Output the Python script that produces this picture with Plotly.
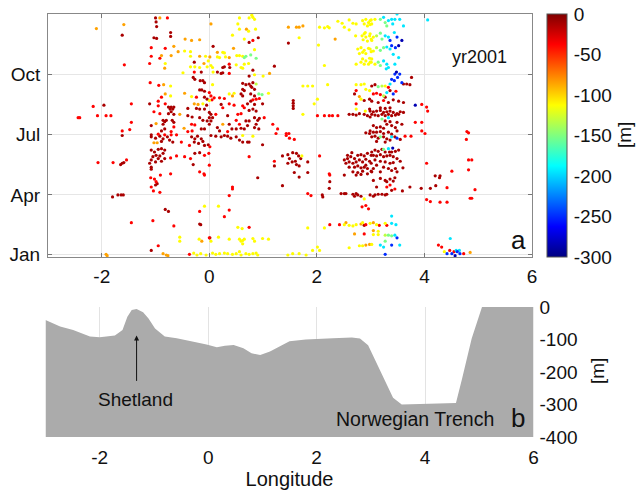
import plotly.graph_objects as go

# ---------------- DATA ----------------
dark_red = [
    (-1.62, 332), (-1.00, 358), (-0.99, 352), (-0.98, 345), (-0.72, 336), (-0.72, 330), (-1.03, 328), (-0.98, 327),
    (-1.96, 226), (-0.15, 276), (-0.30, 268), (-0.27, 265), (-0.17, 263), (-0.12, 263), (-0.09, 260), (-0.18, 249),
    (-0.14, 249), (-0.09, 247), (-0.09, 238), (-0.04, 235), (-0.05, 226), (-1.11, 228), (-0.76, 223), (-0.71, 223),
    (-0.66, 223), (-0.73, 220), (-0.68, 220), (-0.71, 216), (-0.76, 213), (-0.66, 212), (-0.40, 221), (-0.24, 221),
    (-0.18, 220), (-0.09, 220), (-0.86, 203), (-0.83, 201), (-0.86, 197), (-0.80, 203), (-0.69, 203), (-0.66, 200),
    (-1.08, 195), (-0.40, 210), (-0.32, 208), (-0.18, 207), (-0.12, 203), (-0.04, 202), (-0.89, 187), (-0.83, 190),
    (-0.15, 190), (-0.09, 190), (-1.08, 181), (-0.28, 291),
    (-1.62, 180), (-1.08, 178), (-1.00, 176), (-0.92, 179), (-0.86, 175), (-0.78, 178), (-0.74, 173), (-0.68, 170),
    (-0.89, 171), (-0.33, 178), (-0.27, 175), (-0.22, 179), (-0.15, 175), (-0.28, 170), (-0.20, 168), (-0.12, 171),
    (-0.09, 165), (-0.02, 166), (-1.08, 158), (-1.02, 155), (-0.95, 159), (-0.89, 160), (-0.83, 158), (-0.99, 150),
    (-0.92, 149), (-0.86, 153), (-1.05, 148), (-0.95, 145), (-0.83, 145), (-1.08, 143), (-0.89, 141), (-1.00, 140),
    (-0.27, 153), (-0.18, 154), (-1.65, 136), (-1.62, 138), (-1.59, 139), (-1.11, 138), (-1.08, 132), (-1.08, 129),
    (-0.30, 136), (-1.00, 105), (-0.97, 107), (-1.80, 87), (-1.70, 90), (-1.64, 90), (-1.60, 90), (-0.82, 68),
    (-0.76, 65), (-0.18, 46), (-0.16, 45), (0.01, 25), (-1.08, 6),
    (0.74, 321), (0.91, 328), (1.47, 320), (0.07, 315), (0.25, 283), (0.28, 284), (0.38, 283), (0.15, 276),
    (0.22, 274), (0.25, 275), (0.81, 279), (1.21, 285), (0.74, 270), (0.62, 259), (0.68, 257), (0.74, 258),
    (0.77, 255), (0.81, 260), (0.62, 250), (0.65, 248), (0.79, 253), (0.84, 250), (0.77, 243), (0.84, 240),
    (0.59, 243), (0.62, 240), (0.99, 228), (0.71, 228), (0.77, 232), (0.84, 227), (0.22, 227), (0.74, 218),
    (0.81, 220), (0.87, 217), (0.00, 215), (0.03, 212), (0.00, 207), (0.06, 207), (0.03, 202), (0.00, 197),
    (0.34, 210), (0.68, 202), (0.74, 202), (0.84, 207), (0.90, 203), (0.93, 206), (0.71, 195), (0.87, 197),
    (0.65, 190), (0.84, 192), (0.92, 190), (0.50, 190), (0.59, 191), (0.37, 197), (0.42, 190), (0.15, 192),
    (0.19, 187), (1.56, 233), (1.56, 229), (1.56, 225), (1.56, 221), (2.70, 243), (2.88, 233), (2.98, 235),
    (2.98, 220), (2.60, 212), (2.67, 212), (2.73, 211), (2.79, 213), (2.88, 212), (2.94, 210), (2.99, 208),
    (2.91, 184), (2.98, 183),
    (0.03, 180), (0.12, 179), (0.22, 178), (0.28, 180), (0.34, 179), (0.40, 176), (0.50, 178), (0.56, 173),
    (0.62, 170), (0.71, 170), (0.74, 170), (0.99, 166), (0.90, 116), (1.36, 104), (1.21, 134), (1.36, 149),
    (1.46, 151), (1.49, 145), (1.55, 154), (1.62, 153), (1.66, 149), (1.70, 145), (1.54, 140), (1.46, 138),
    (1.62, 136), (1.67, 134), (1.60, 141), (1.83, 140), (1.58, 124), (1.67, 117), (1.83, 124), (2.10, 90),
    (2.11, 87), (2.24, 110), (2.23, 100),
    (2.51, 143), (2.57, 145), (2.63, 148), (2.70, 145), (2.76, 150), (2.82, 151), (2.88, 149), (2.94, 153),
    (3.01, 150), (2.54, 138), (2.60, 140), (2.67, 138), (2.73, 140), (2.79, 143), (2.85, 140), (2.91, 144),
    (2.98, 141), (3.01, 138), (2.60, 132), (2.70, 132), (2.76, 134), (2.82, 131), (2.88, 132), (2.94, 130),
    (2.67, 125), (2.76, 124), (2.85, 126), (2.94, 122), (3.01, 126), (2.51, 120), (2.73, 120), (2.82, 121),
    (2.57, 150), (2.65, 154), (2.91, 135), (2.45, 92), (2.51, 92), (2.54, 92), (2.67, 91), (2.73, 92),
    (2.76, 90), (2.70, 88), (2.82, 88), (2.88, 44),
    (3.61, 258), (3.67, 258), (3.73, 257), (3.76, 268), (3.02, 255), (3.08, 257), (3.27, 238), (3.36, 248),
    (3.02, 232), (3.14, 230), (3.33, 230), (3.42, 234), (3.52, 232), (3.61, 230),
    (2.99, 217), (3.05, 216), (3.11, 217), (3.18, 218), (3.24, 215), (3.30, 216), (3.36, 217), (3.42, 215),
    (3.49, 213), (3.55, 216), (3.61, 215), (3.02, 212), (3.08, 211), (3.14, 210), (3.21, 212), (3.27, 210),
    (3.33, 212), (3.39, 210), (3.46, 211), (3.52, 212), (3.36, 222), (3.27, 221), (3.18, 222), (3.27, 202),
    (3.36, 201), (3.49, 200), (3.58, 197), (3.05, 195), (3.11, 192), (3.18, 193), (3.24, 191), (3.30, 197),
    (3.39, 195), (3.46, 192), (2.99, 187), (3.05, 185), (3.11, 185), (3.18, 186), (3.24, 183), (3.33, 185),
    (3.39, 182), (3.49, 187),
    (3.02, 178), (3.08, 179), (3.14, 176), (3.24, 178), (3.30, 175), (3.36, 173), (3.45, 178), (3.55, 174),
    (3.11, 171), (3.27, 170), (3.02, 155), (3.08, 158), (3.14, 156), (3.21, 159), (3.27, 155), (3.35, 155),
    (3.39, 155), (3.46, 156), (3.52, 158), (3.05, 150), (3.11, 149), (3.18, 151), (3.24, 148), (3.30, 149),
    (3.36, 150), (3.42, 148), (3.49, 145), (3.08, 143), (3.18, 141), (3.27, 140), (3.36, 138), (3.42, 139),
    (3.55, 141), (3.24, 132), (3.33, 130), (3.39, 127), (3.46, 130), (3.11, 135), (3.05, 130), (3.02, 125),
    (3.18, 125), (3.49, 125), (3.60, 131), (3.05, 112), (3.18, 115), (3.27, 112), (3.30, 110), (3.36, 114),
    (3.42, 111), (3.45, 116), (3.11, 102), (3.39, 97), (2.99, 90), (3.05, 88), (3.08, 90), (3.14, 91),
    (3.21, 91), (3.27, 90), (3.30, 91), (3.59, 96), (3.73, 102), (3.94, 100), (4.11, 100), (4.20, 119),
    (4.29, 119), (4.28, 116), (4.21, 104),
]

red = [
    (-1.58, 287), (-2.16, 224), (-1.45, 228), (-2.44, 207), (-2.41, 207), (-2.08, 210), (-1.92, 210), (-1.83, 210),
    (-1.45, 200), (-1.62, 187), (-1.48, 189), (-0.78, 358), (-1.08, 313), (-0.82, 312), (-0.92, 297), (-1.08, 300),
    (-1.11, 289), (-0.28, 276), (-1.10, 260), (-0.94, 256), (-0.24, 238), (-0.89, 238), (-0.82, 228), (-0.95, 232),
    (-0.95, 225), (-1.03, 216), (-0.92, 213), (-0.33, 197), (-0.27, 196), (-0.66, 193), (-0.71, 186), (-0.40, 186),
    (-0.32, 187), (-0.95, 182), (-0.83, 181), (-0.71, 181), (-0.61, 181),
    (-0.52, 170), (-0.37, 165), (-0.72, 146), (-0.61, 149), (-0.46, 148), (-0.35, 145), (-0.09, 150), (-0.01, 153),
    (-2.07, 139), (-1.79, 139), (-1.54, 143), (-0.91, 120), (-0.72, 122), (-0.18, 125), (-0.10, 122), (-0.09, 120),
    (-1.09, 116), (-1.02, 114), (-0.99, 110), (-1.08, 102), (-1.04, 96), (-0.92, 94), (-1.45, 48), (-1.05, 51),
    (-0.66, 43), (-0.18, 65), (-0.95, 13), (-0.37, 0),
    (0.81, 324), (0.37, 288), (0.37, 274), (0.00, 245), (0.03, 240), (0.09, 237), (0.19, 237), (0.28, 236),
    (0.81, 234), (0.87, 235), (0.93, 236), (0.62, 225), (0.65, 222), (0.37, 228), (0.46, 226), (0.05, 234),
    (0.25, 222), (0.53, 212), (0.59, 213), (0.12, 212), (1.02, 207), (1.18, 197), (1.27, 190), (0.50, 203),
    (0.56, 197), (0.34, 186), (2.73, 248), (2.73, 228), (2.01, 210), (2.14, 210), (2.23, 210), (2.29, 210),
    (2.39, 210), (1.43, 183), (1.48, 183), (1.24, 183),
    (1.43, 180), (1.49, 176), (1.58, 174), (0.01, 163), (0.00, 135), (0.74, 148), (0.43, 102), (0.43, 99),
    (0.37, 89), (1.21, 141), (1.83, 92), (1.89, 89), (2.05, 149), (2.23, 122), (2.24, 120), (2.84, 72),
    (2.91, 74), (2.96, 69), (0.37, 67), (0.28, 57), (0.74, 41), (2.24, 45), (2.42, 45), (2.91, 45),
    (2.88, 31), (0.00, 25),
    (3.33, 253), (3.05, 243), (3.11, 244), (3.18, 242), (3.47, 247), (3.24, 233), (3.95, 227), (4.04, 223),
    (4.06, 217), (3.83, 200), (3.95, 200), (3.95, 187), (4.01, 183), (4.79, 186), (4.82, 184),
    (3.64, 179), (3.75, 179), (3.30, 102), (3.36, 105), (3.45, 99), (4.04, 138), (4.51, 126), (4.42, 101),
    (4.78, 174), (4.82, 143), (4.88, 143), (4.82, 128), (4.94, 98), (4.85, 85), (4.88, 85), (4.04, 83),
    (4.11, 80), (4.29, 79), (4.42, 79), (3.16, 44), (3.30, 44), (4.26, 14), (4.32, 11), (4.47, 6),
    (4.55, 4), (4.73, 1),
]

orange = [
    (-2.10, 342), (-1.59, 348), (-0.92, 358), (-0.66, 315), (-0.45, 326), (-0.33, 324), (-0.18, 325), (-0.58, 307),
    (-0.71, 301), (-0.89, 301), (-0.83, 282), (-0.18, 300), (-0.10, 289), (-0.85, 257), (-0.46, 244), (-0.82, 243),
    (-0.28, 228), (-0.21, 227), (-0.55, 212), (-0.99, 198), (-0.47, 191),
    (-1.03, 169), (-0.97, 169), (-0.14, 20), (-1.92, 0), (-1.90, -2), (-0.86, 1), (-0.80, -1), (-0.77, -2),
    (0.03, 349), (0.69, 341), (1.47, 344), (1.62, 344), (1.67, 344), (1.74, 346), (0.45, 312), (0.15, 306),
    (0.01, 299), (0.37, 298), (1.12, 274), (0.43, 240), (0.25, 197), (2.34, 326), (2.79, 239),
    (2.54, 48), (2.70, 31), (2.91, 14), (2.98, 15), (2.82, 46),
    (3.05, 48), (3.05, 36), (4.85, 3),
]

yellow = [
    (-0.46, 308), (-0.35, 307), (-0.82, 289), (-0.35, 300), (-0.07, 300), (-0.02, 293), (-0.35, 284), (-0.27, 284),
    (-0.18, 283), (-0.04, 284), (-0.49, 275), (-0.72, 255), (-0.72, 240), (-0.33, 239), (-0.12, 228),
    (-0.09, 73), (-0.55, 26), (-0.55, 20), (-0.19, 23), (-0.29, 2), (-0.23, -1), (-0.16, 1), (-0.06, -1),
    (0.74, 358), (0.81, 359), (0.84, 356), (0.79, 362), (0.56, 358), (0.53, 349), (0.56, 341), (0.73, 338),
    (0.86, 341), (0.43, 332), (0.65, 326), (1.67, 328), (0.84, 310), (0.25, 306), (0.28, 305), (0.15, 299),
    (0.19, 298), (0.30, 299), (0.51, 301), (0.56, 301), (0.62, 300), (0.73, 289), (0.65, 288), (0.03, 286),
    (0.06, 283), (0.50, 287), (0.59, 283), (0.62, 282), (0.07, 276), (1.00, 270), (0.84, 272), (0.06, 257),
    (0.37, 243), (0.46, 244), (1.10, 244), (0.00, 233), (1.74, 212), (1.74, 255), (1.83, 255), (1.92, 255),
    (1.95, 228), (2.14, 286), (2.20, 257), (2.01, 235), (2.05, 344), (2.14, 343), (2.20, 345), (2.23, 343),
    (2.03, 317), (2.39, 353), (2.47, 350), (2.60, 355), (2.67, 350), (2.73, 349), (2.51, 344), (2.60, 340),
    (2.72, 331), (2.85, 354), (2.91, 356), (2.96, 351), (3.01, 355), (2.88, 349), (2.94, 346), (2.99, 348),
    (2.84, 331), (2.88, 334), (2.91, 329), (2.98, 331), (3.01, 326), (2.86, 325), (2.94, 323), (2.90, 336),
    (2.76, 311), (2.82, 313), (2.88, 309), (2.96, 312), (3.01, 307), (2.85, 306), (2.91, 304), (2.79, 304),
    (2.85, 296), (2.91, 293), (2.98, 297), (2.88, 288), (2.96, 288), (3.01, 291), (2.82, 291), (2.73, 288),
    (2.73, 257), (2.82, 257), (2.88, 258), (2.91, 250), (2.98, 248), (2.82, 235), (2.73, 220), (2.90, 217),
    (0.81, 179), (0.62, 180), (1.72, 149), (2.88, 84), (0.17, 73), (0.53, 41), (0.61, 39), (1.83, 40),
    (2.14, 40), (2.51, 45), (2.60, 44), (2.67, 43), (2.73, 45), (2.85, 48), (0.17, 26), (0.03, 20),
    (0.37, 23), (0.56, 23), (0.59, 20), (0.62, 21), (0.65, 23), (0.62, 16), (0.81, 24), (0.84, 20),
    (0.99, 24), (1.10, 23), (2.60, 10), (2.79, 13), (2.85, 13), (2.01, 11), (2.05, 6), (1.92, 6),
    (0.06, 2), (0.12, 0), (0.19, 1), (0.28, 2), (0.34, 1), (0.43, 0), (0.50, 1), (0.56, 4),
    (0.59, -1), (0.68, 1), (0.74, 0), (0.81, 1), (0.87, 2), (0.90, -1), (1.46, -1), (1.55, 1),
    (1.67, 1), (1.80, -1),
    (2.99, 354), (3.02, 349), (3.08, 356), (2.99, 334), (3.05, 329), (3.02, 324), (2.99, 311), (3.05, 308),
    (2.99, 291), (3.02, 296), (3.08, 288), (3.27, 255),
    (2.99, 47), (3.11, 45), (3.27, 47), (3.14, 35), (3.05, 30), (3.14, 30), (3.02, 15), (4.37, 4),
]

yellow_green = [
    (3.11, 331), (3.11, 313), (3.21, 255), (3.24, 240), (3.27, 29), (0.87, 258),
]

green = [
    (0.65, 298), (0.68, 300), (0.77, 302), (0.87, 297), (0.92, 243), (0.98, 242),
    (3.18, 356), (3.27, 351), (3.30, 346), (3.18, 335), (3.21, 326), (3.18, 309), (3.24, 313), (3.14, 291),
    (3.18, 286), (3.14, 254), (3.21, 205), (3.18, 178), (3.24, 159), (3.33, 29), (3.39, 28), (3.27, 20),
]

cyan = [
    (3.24, 359), (3.33, 354), (3.39, 356), (3.45, 356), (3.54, 356), (3.41, 349), (3.61, 346), (4.06, 355),
    (3.49, 364), (3.27, 331), (3.33, 329), (3.44, 336), (3.30, 314), (3.36, 311), (3.42, 303), (3.52, 298),
    (3.24, 293), (3.30, 288), (3.33, 283), (3.45, 288), (3.29, 281), (3.36, 258), (3.30, 245), (3.33, 207),
    (3.33, 160), (3.39, 178), (3.39, 58), (3.39, 47), (3.47, 45), (3.45, 29), (3.18, 14), (3.24, 11),
    (3.54, 14), (4.48, 24), (4.59, 6), (4.65, 6),
]

blue = [
    (3.36, 324), (3.49, 329), (3.39, 316), (3.46, 313), (3.45, 273), (3.54, 273), (3.39, 265), (3.44, 263),
    (3.50, 268), (3.58, 260), (3.42, 243), (3.49, 176), (3.49, 25), (3.39, 14), (3.27, 0), (4.42, 1),
    (4.51, 1), (4.61, 4), (4.66, 1),
]

dark_blue = [
    (3.52, 316), (3.58, 324), (3.41, 161), (4.57, -2), (3.48, 276), (3.83, 226),
]

point_groups = [dark_red, red, orange, yellow, yellow_green, green, cyan, blue, dark_blue]
group_depth = [-12, -38, -85, -112, -132, -152, -195, -250, -285]   # [m]

# Bathymetry profile along the section
bathy_lon = [-3.0, -2.73, -2.49, -2.18, -2.0, -1.72, -1.58, -1.49, -1.41, -1.32, -1.20, -1.10, -0.98,
             -0.80, -0.58, -0.27, -0.03, 0.16, 0.31, 0.47, 0.65, 0.80, 0.96, 1.14, 1.33, 1.50, 1.80,
             2.00, 2.30, 2.65, 2.80, 2.95, 3.19, 3.41, 3.57, 4.00, 4.57, 4.68, 4.86, 5.05, 6.0]
bathy_depth = [-40, -60, -71, -91, -93, -88, -71, -30, -9, -6, -16, -35, -66,
               -91, -96, -107, -115, -124, -119, -117, -127, -142, -148, -137, -119, -105, -100,
               -98, -96, -94, -97, -118, -201, -279, -300, -297, -295, -222, -97, 0, 0]

month_ticks = [0, 90, 181, 273]
month_labels = ["Jan", "Apr", "Jul", "Oct"]
lon_ticks = [-2, 0, 2, 4, 6]
lon_labels = ["-2", "0", "2", "4", "6"]
depth_ticks = [0, -100, -200, -300, -400]
depth_labels = ["0", "-100", "-200", "-300", "-400"]
cbar_ticks = [0, -50, -100, -150, -200, -250, -300]
cbar_labels = ["0", "-50", "-100", "-150", "-200", "-250", "-300"]

# ---------------- FIGURE ----------------
W, H = 639, 491
FONT = "Liberation Sans, Arial, Helvetica, sans-serif"
TF = 19

lon, day, dep = [], [], []
for pts, d in zip(point_groups, group_depth):
    for (x, y) in pts:
        lon.append(x)
        day.append(y)
        dep.append(d)

jet = [[0.0, "rgb(0,0,128)"], [0.125, "rgb(0,0,255)"], [0.375, "rgb(0,255,255)"],
       [0.625, "rgb(255,255,0)"], [0.875, "rgb(255,0,0)"], [1.0, "rgb(128,0,0)"]]

fig = go.Figure()

fig.add_trace(go.Scatter(
    x=lon, y=day, mode="markers", xaxis="x", yaxis="y",
    marker=dict(size=3.2, color=dep, colorscale=jet, cmin=-300, cmax=0,
                line=dict(width=0),
                colorbar=dict(
                    x=547 / W, xanchor="left", xpad=0,
                    y=1 - 14 / H, yanchor="top", ypad=0,
                    len=243 / H, lenmode="fraction", thickness=20,
                    tickvals=cbar_ticks, ticktext=cbar_labels,
                    ticks="outside", ticklen=3, tickcolor="rgba(0,0,0,0)",
                    tickfont=dict(size=TF, color="#111", family=FONT),
                    outlinewidth=1, outlinecolor="#555",
                )),
    showlegend=False, hoverinfo="skip",
))

# bathymetry polygon (profile closed down to the axis floor)
poly_x = [bathy_lon[0]] + bathy_lon + [bathy_lon[-1]]
poly_y = [-400] + bathy_depth + [-400]
fig.add_trace(go.Scatter(
    x=poly_x, y=poly_y, xaxis="x2", yaxis="y2", mode="lines",
    fill="toself", fillcolor="#ababab", line=dict(width=0, color="#ababab"),
    showlegend=False, hoverinfo="skip",
))

fig.update_layout(
    width=W, height=H,
    margin=dict(l=0, r=0, t=0, b=0, autoexpand=False),
    paper_bgcolor="white", plot_bgcolor="white",
    font=dict(family=FONT, size=TF, color="#111"),
    xaxis=dict(domain=[48 / W, 532 / W], range=[-3, 6], anchor="y", automargin=False,
               tickvals=lon_ticks, ticktext=lon_labels, ticks="inside", ticklen=4, tickcolor="#777",
               showgrid=True, gridcolor="#e6e6e6", gridwidth=1,
               showline=True, linecolor="#888", linewidth=1, mirror="ticks",
               zeroline=False, tickfont=dict(size=TF), ticklabelstandoff=2),
    yaxis=dict(domain=[1 - 257 / H, 1 - 14 / H], range=[-4, 364], anchor="x", automargin=False,
               tickvals=month_ticks, ticktext=month_labels, ticks="inside", ticklen=4,
               tickcolor="#777", showgrid=True, gridcolor="#e6e6e6", gridwidth=1,
               showline=True, linecolor="#888", linewidth=1, mirror="ticks",
               zeroline=False, tickfont=dict(size=TF), ticklabelstandoff=3),
    xaxis2=dict(domain=[45.5 / W, 533.5 / W], range=[-3, 6], anchor="y2", automargin=False,
                tickvals=lon_ticks, ticktext=lon_labels, ticks="", showgrid=True, gridcolor="#e3e3e3",
                showline=False, zeroline=False, tickfont=dict(size=TF),
                ticklabelstandoff=7,
                title=dict(text="Longitude", font=dict(size=20), standoff=3)),
    yaxis2=dict(domain=[1 - 437 / H, 1 - 307 / H], range=[-400, 0], anchor="x2", automargin=False,
                side="right", tickvals=depth_ticks, ticktext=depth_labels, ticks="", showgrid=False,
                showline=False, zeroline=False, tickfont=dict(size=TF),
                ticklabelstandoff=5),
)

ann = [
    dict(x=5.03, y=299, xref="x", yref="y", text="yr2001", showarrow=False,
         font=dict(size=18)),
    dict(x=5.75, y=22, xref="x", yref="y", text="a", showarrow=False,
         font=dict(size=26)),
    dict(x=-1.34, y=-285, xref="x2", yref="y2", text="Shetland", showarrow=False,
         font=dict(size=19)),
    dict(x=-1.32, y=-88, ax=-1.32, ay=-232, xref="x2", yref="y2", axref="x2", ayref="y2",
         text="", showarrow=True, arrowhead=2, arrowsize=1, arrowwidth=1, arrowcolor="#111"),
    dict(x=3.82, y=-344, xref="x2", yref="y2", text="Norwegian Trench", showarrow=False,
         font=dict(size=19.5)),
    dict(x=5.72, y=-340, xref="x2", yref="y2", text="b", showarrow=False,
         font=dict(size=26)),
    dict(x=624 / W, y=1 - 135 / H, xref="paper", yref="paper", text="[m]", showarrow=False,
         xanchor="center", yanchor="middle", textangle=-90, font=dict(size=19)),
    dict(x=597 / W, y=1 - 371 / H, xref="paper", yref="paper", text="[m]", showarrow=False,
         xanchor="center", yanchor="middle", textangle=-90, font=dict(size=19)),
]
fig.update_layout(annotations=ann)

fig.write_html("out.html", config={"displayModeBar": False},
               post_script="document.body.style.margin='0';document.body.style.overflow='hidden';")
